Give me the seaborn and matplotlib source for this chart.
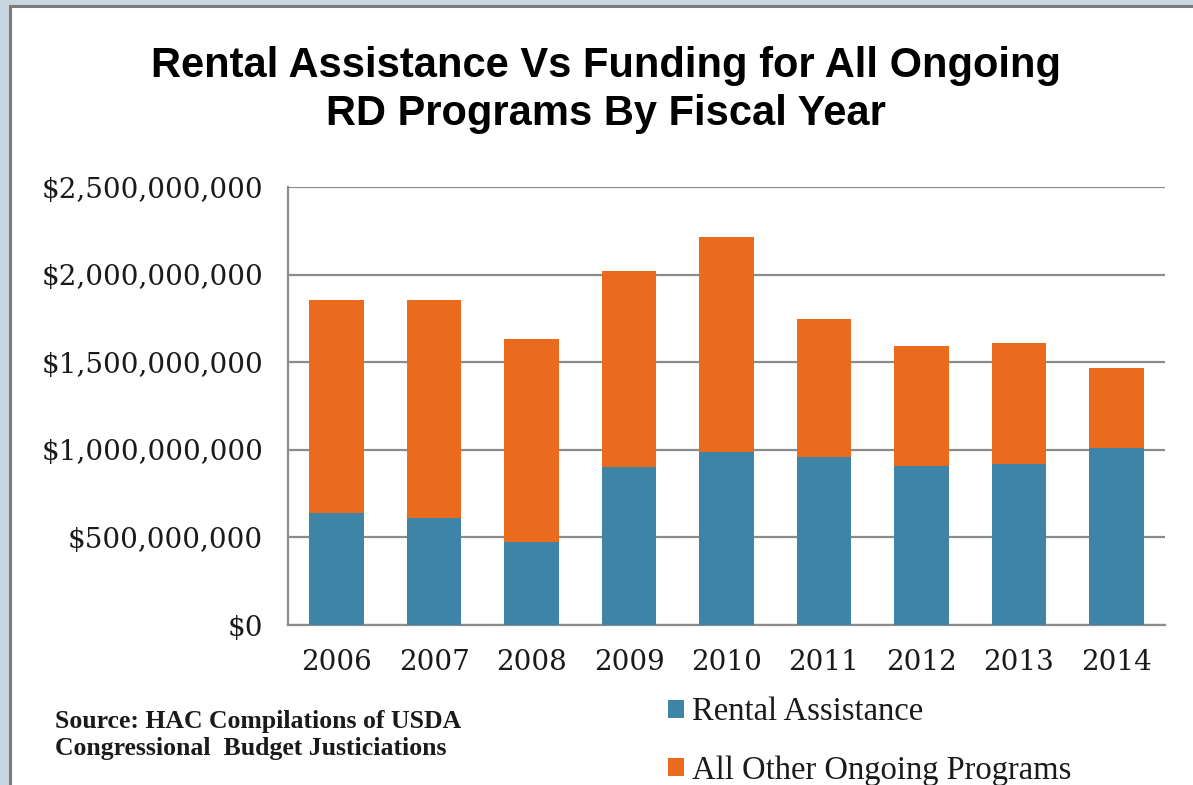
import matplotlib
matplotlib.use("Agg")
import matplotlib.pyplot as plt
import matplotlib.patches as mpatches
from matplotlib.ticker import FuncFormatter, MultipleLocator
import seaborn as sns
import pandas as pd

# ---- data (USD) ----
years = ["2006", "2007", "2008", "2009", "2010", "2011", "2012", "2013", "2014"]
rental_assistance = [638e6, 613e6, 476e6, 904e6, 988e6, 961e6, 905e6, 919e6, 1012e6]
all_other = [1217e6, 1242e6, 1157e6, 1117e6, 1229e6, 784e6, 688e6, 689e6, 457e6]
series_labels = ["Rental Assistance", "All Other Ongoing Programs"]
title_lines = ["Rental Assistance Vs Funding for All Ongoing", "RD Programs By Fiscal Year"]
source_lines = ["Source: HAC Compilations of USDA", "Congressional  Budget Justiciations"]

BLUE = "#3d84a7"
ORANGE = "#ea6b1d"
GRID = "#8c8c8c"

df = pd.DataFrame({"year": years, "rental": rental_assistance, "other": all_other})
df["total"] = df["rental"] + df["other"]

sns.set_theme(style="white")
plt.rcParams["font.family"] = ["DejaVu Serif"]

W, H = 1193, 785
fig = plt.figure(figsize=(W / 100, H / 100), dpi=100)
fig.patch.set_facecolor("#c9d5df")
panel = mpatches.Rectangle((10 / W, -0.01), 1.02, 1 - 6 / H + 0.01, transform=fig.transFigure,
                           facecolor="white", edgecolor="#7b7b7b", lw=2.2, zorder=0)
fig.add_artist(panel)

ax = fig.add_axes([288 / W, 1 - 625 / H, (1165 - 288) / W, (625 - 187) / H])
ax.set_facecolor("none")

sns.barplot(data=df, x="year", y="total", color=ORANGE, saturation=1, width=0.56,
            errorbar=None, label=series_labels[1], ax=ax, zorder=3, linewidth=0)
sns.barplot(data=df, x="year", y="rental", color=BLUE, saturation=1, width=0.56,
            errorbar=None, label=series_labels[0], ax=ax, zorder=3, linewidth=0)
if ax.get_legend() is not None:
    ax.get_legend().remove()

ax.set_ylim(0, 2.5e9)
ax.yaxis.set_major_locator(MultipleLocator(5e8))
ax.yaxis.set_major_formatter(FuncFormatter(lambda v, p: f"${v:,.0f}"))
ax.set_xlabel("")
ax.set_ylabel("")
ax.yaxis.grid(True, color=GRID, lw=1.6)
ax.xaxis.grid(False)
ax.set_axisbelow(True)
for s in ["top", "right"]:
    ax.spines[s].set_visible(False)
for s in ["left", "bottom"]:
    ax.spines[s].set_color(GRID)
    ax.spines[s].set_linewidth(1.6)
ax.tick_params(axis="y", length=0, pad=18, labelsize=20, labelcolor="#1a1a1a")
ax.tick_params(axis="x", length=0, pad=17, labelsize=20, labelcolor="#1a1a1a")

# title
fig.text(606 / W, 1 - 77 / H, title_lines[0], ha="center", va="baseline",
         fontsize=30, fontweight="bold", family=["Liberation Sans", "DejaVu Sans"], color="black")
fig.text(606 / W, 1 - 125 / H, title_lines[1], ha="center", va="baseline",
         fontsize=30, fontweight="bold", family=["Liberation Sans", "DejaVu Sans"], color="black")

# source note
fig.text(55 / W, 1 - 728 / H, source_lines[0], ha="left", va="baseline",
         fontsize=18.5, fontweight="bold", family=["Liberation Serif", "DejaVu Serif"], color="#1a1a1a")
fig.text(55 / W, 1 - 755 / H, source_lines[1], ha="left", va="baseline",
         fontsize=18.5, fontweight="bold", family=["Liberation Serif", "DejaVu Serif"], color="#1a1a1a")

# legend
handles, labels = ax.get_legend_handles_labels()
order = [labels.index(series_labels[0]), labels.index(series_labels[1])]
leg = fig.legend([handles[i] for i in order], [labels[i] for i in order],
                 loc="upper left", bbox_to_anchor=(668 / W, 1 - 697 / H),
                 frameon=False, handlelength=0.5, handleheight=0.5, handletextpad=0.25,
                 labelspacing=0.85, borderpad=0, borderaxespad=0,
                 prop={"family": ["Liberation Serif", "DejaVu Serif"], "size": 23.5})
for t in leg.get_texts():
    t.set_color("#1a1a1a")

fig.savefig("out.png", dpi=100, facecolor=fig.get_facecolor())
